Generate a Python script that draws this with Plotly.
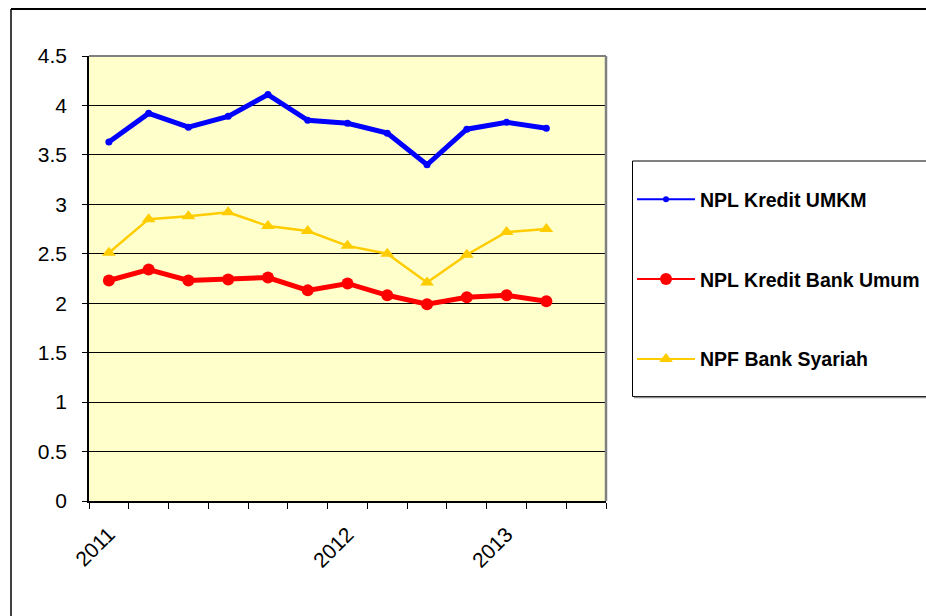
import plotly.graph_objects as go

# Periods (12 observations on a 13-slot category axis)
periods = list(range(12))
year_ticks = [0, 6, 10]
year_labels = ["2011", "2012", "2013"]

npl_umkm = [3.63, 3.92, 3.78, 3.89, 4.11, 3.85, 3.82, 3.72, 3.40, 3.76, 3.83, 3.77]
npl_bank_umum = [2.23, 2.34, 2.23, 2.24, 2.26, 2.13, 2.20, 2.08, 1.99, 2.06, 2.08, 2.02]
npf_syariah = [2.51, 2.85, 2.88, 2.92, 2.78, 2.73, 2.58, 2.50, 2.21, 2.49, 2.72, 2.75]

names = ["NPL Kredit UMKM", "NPL Kredit Bank Umum", "NPF Bank Syariah"]
colors = ["#0000FF", "#FF0000", "#FFCC00"]

W, H = 926, 616
ML, MR, MT, MB = 89, 320, 56, 115
PW, PH = W - ML - MR, H - MT - MB


def px_x(px):
    return (px - ML) / PW


def px_y(py):
    return (H - MB - py) / PH


FONT = "Liberation Sans, Arial, sans-serif"

fig = go.Figure()

series = [
    (npl_umkm, dict(width=5), dict(symbol="circle", size=7)),
    (npl_bank_umum, dict(width=5), dict(symbol="circle", size=12)),
    (npf_syariah, dict(width=2.5), dict(symbol="triangle-up", size=12)),
]
for (vals, ln, mk), name, col in zip(series, names, colors):
    fig.add_trace(go.Scatter(
        x=periods, y=vals, mode="lines+markers", name=name,
        line=dict(color=col, **ln), marker=dict(color=col, **mk),
        showlegend=False,
    ))

# Legend entries with thinner sample lines
legend_marker_sizes = [6, 12, 12]
legend_symbols = ["circle", "circle", "triangle-up"]
for i, (name, col) in enumerate(zip(names, colors)):
    fig.add_trace(go.Scatter(
        x=[None], y=[None], mode="lines+markers", name=name,
        legendgroup=f"g{i}",
        line=dict(color=col, width=2),
        marker=dict(color=col, size=legend_marker_sizes[i], symbol=legend_symbols[i]),
    ))

shapes = [
    # plot-area border (top and right)
    dict(type="line", xref="paper", yref="paper", x0=0, x1=1, y0=1, y1=1,
         line=dict(color="#808080", width=2)),
    dict(type="line", xref="paper", yref="paper", x0=1, x1=1, y0=0, y1=1,
         line=dict(color="#808080", width=2.5)),
    # outer chart frame
    dict(type="line", xref="paper", yref="paper", x0=px_x(11), x1=px_x(11),
         y0=px_y(9), y1=px_y(620), line=dict(color="#000000", width=1.5)),
    dict(type="line", xref="paper", yref="paper", x0=px_x(11), x1=px_x(930),
         y0=px_y(9), y1=px_y(9), line=dict(color="#000000", width=2)),
    # legend box
    dict(type="rect", xref="paper", yref="paper", x0=px_x(632.5), x1=px_x(930),
         y0=px_y(396.5), y1=px_y(161), line=dict(color="#000000", width=1)),
    dict(type="line", xref="paper", yref="paper", x0=px_x(634), x1=px_x(930),
         y0=px_y(397.5), y1=px_y(397.5), line=dict(color="#909090", width=1.5)),
]

fig.update_layout(
    width=W, height=H,
    margin=dict(l=ML, r=MR, t=MT, b=MB, pad=0, autoexpand=False),
    paper_bgcolor="#FFFFFF",
    plot_bgcolor="#FFFFCC",
    font=dict(family=FONT, color="#000000", size=21),
    shapes=shapes,
    legend=dict(
        x=px_x(632), y=px_y(180), xanchor="left", yanchor="top",
        bgcolor="rgba(0,0,0,0)", borderwidth=0,
        font=dict(family=FONT, size=19.5, color="#000000", weight="bold"),
        tracegroupgap=51.5, itemwidth=58,
    ),
    xaxis=dict(
        range=[-0.5, 12.5],
        tickvals=year_ticks, ticktext=year_labels,
        tickangle=-45, ticks="", showgrid=False, zeroline=False,
        showline=True, linecolor="#000000", linewidth=1.5,
        tickfont=dict(family=FONT, size=21),
        ticklabelstandoff=11,
        minor=dict(tickvals=[i - 0.5 for i in range(14)], ticks="outside",
                   ticklen=6, tickcolor="#000000", tickwidth=1, showgrid=False),
    ),
    yaxis=dict(
        range=[0, 4.5], dtick=0.5, tick0=0,
        showgrid=True, gridcolor="#000000", gridwidth=1,
        zeroline=False,
        showline=True, linecolor="#000000", linewidth=1.5,
        ticks="outside", ticklen=5, tickcolor="#000000",
        tickfont=dict(family=FONT, size=21),
        ticklabelstandoff=11,
    ),
)

fig.write_html("out.html")
